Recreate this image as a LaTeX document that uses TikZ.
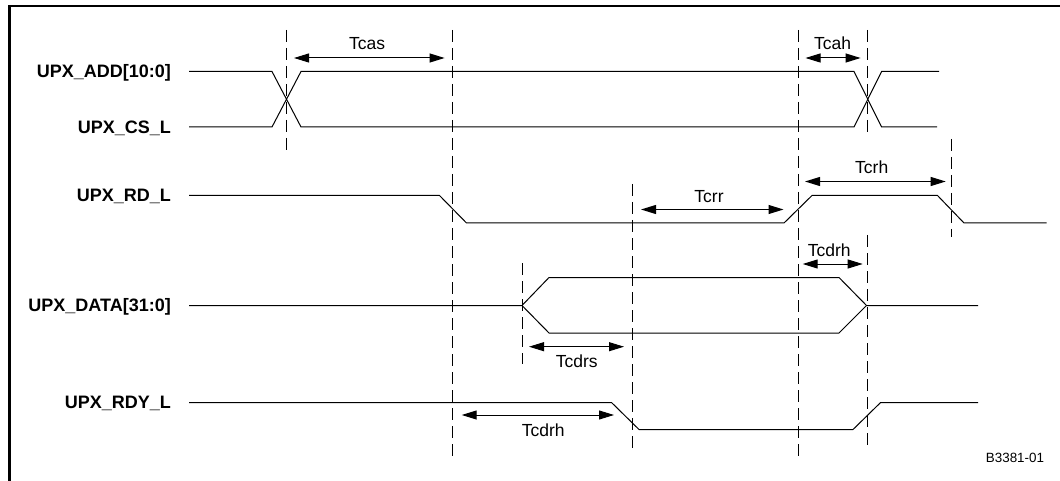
\documentclass[tikz,border=0pt]{standalone}
\usepackage{fontspec}
\setmainfont{Liberation Sans}
\usetikzlibrary{arrows.meta}
\begin{document}
\begin{tikzpicture}[x=1pt,y=-1pt,
  sig/.style={line width=1pt, line join=miter},
  guide/.style={line width=1pt, dash pattern=on 12pt off 6pt},
  dim/.style={line width=1pt, {Triangle[length=15pt,width=9pt]}-{Triangle[length=15pt,width=9pt]}},
  siglabel/.style={anchor=base east, font=\fontsize{18}{20}\selectfont\bfseries, inner sep=0pt},
  dimlabel/.style={font=\fontsize{17.5}{20}\selectfont, inner sep=0pt},
]
\useasboundingbox (0,0) rectangle (1060,481);
% frame
\draw[line width=2.6pt] (9.5,481) -- (9.5,6) -- (1060,6);

% signal labels
\node[siglabel] (lADD)  at (171,77.9)  {UPX\_ADD[10:0]};
\node[siglabel] (lCS)   at (171,133.4) {UPX\_CS\_L};
\node[siglabel] (lRD)   at (171,201.9) {UPX\_RD\_L};
\node[siglabel] (lDATA) at (171,311.9) {UPX\_DATA[31:0]};
\node[siglabel] (lRDY)  at (171,408.9) {UPX\_RDY\_L};

% signals
\draw[sig] (189,71.5) -- (272,71.5) -- (301,127) -- (854,127) -- (881.6,71.5) -- (939,71.5);
\draw[sig] (189,127) -- (272,127) -- (301,71.5) -- (854,71.5) -- (881.6,127) -- (937,127);
\draw[sig] (189,195.5) -- (439.5,195.5) -- (466.5,223) -- (784,223) -- (812,195.5) -- (937.5,195.5) -- (964,223) -- (1046.6,223);
\draw[sig] (189,305.5) -- (522,305.5) -- (549,277.5) -- (839,277.5) -- (866.5,305.5) -- (978,305.5);
\draw[sig] (522,305.5) -- (549,333) -- (839,333) -- (866.5,305.5);
\draw[sig] (189,402.5) -- (611.5,402.5) -- (639,429.5) -- (853,429.5) -- (880.6,402.5) -- (978,402.5);

% guide lines
\draw[guide] (286.5,30) -- (286.5,154);
\draw[guide] (452,30) -- (452,456);
\draw[guide] (798.8,30) -- (798.8,460);
\draw[guide] (867.5,30) -- (867.5,132);
\draw[guide] (867.5,235) -- (867.5,449);
\draw[guide] (951,139) -- (951,237);
\draw[guide] (632.5,184) -- (632.5,448);
\draw[guide] (522,263) -- (522,364);

% dimension arrows
\draw[dim] (294,58) -- (444.6,58);
\node[dimlabel] (tcas) at (367,44) {Tcas};
\draw[dim] (805.5,58) -- (860.6,58);
\node[dimlabel] (tcah) at (832.6,43) {Tcah};
\draw[dim] (805,181.5) -- (945.7,181.5);
\node[dimlabel] (tcrh) at (871.7,167) {Tcrh};
\draw[dim] (641,209.5) -- (783.5,209.5);
\node[dimlabel] (tcrr) at (709,197) {Tcrr};
\draw[dim] (802.7,264) -- (862.7,264);
\node[dimlabel] (tcdrh1) at (829.3,250.7) {Tcdrh};
\draw[dim] (529,346.7) -- (624,346.7);
\node[dimlabel] (tcdrs) at (576.7,361.7) {Tcdrs};
\draw[dim] (461.7,415) -- (614,415);
\node[dimlabel] (tcdrh2) at (543.3,430) {Tcdrh};

\node[font=\fontsize{13.4}{15}\selectfont, inner sep=0pt] (fig) at (1015,458) {B3381-01};
\end{tikzpicture}
\end{document}
